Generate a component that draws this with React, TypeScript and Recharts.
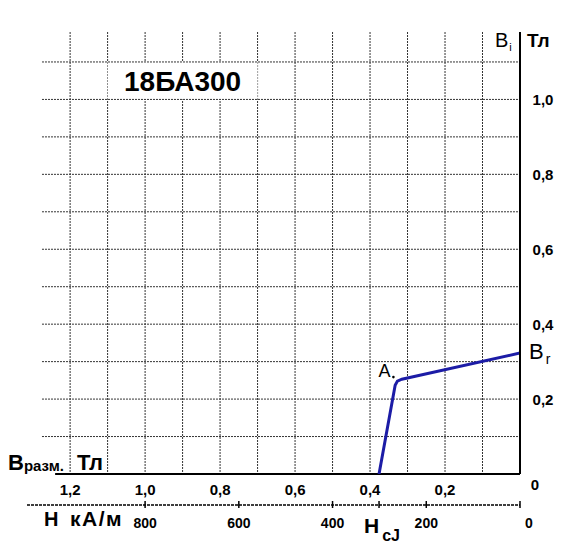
import {
  CartesianGrid,
  Label,
  Line,
  LineChart,
  ReferenceArea,
  ReferenceDot,
  ReferenceLine,
  XAxis,
  YAxis,
} from "recharts";

const FONT = '"Liberation Sans", Arial, sans-serif';

// demagnetization curve, mu0*H (Tл) against B (Tл)
const hTesla = [0, 0.315, 0.327, 0.333, 0.376];
const bTesla = [0.323, 0.253, 0.248, 0.237, 0];

const xTicks = [0, 0.1, 0.2, 0.3, 0.4, 0.5, 0.6, 0.7, 0.8, 0.9, 1.0, 1.1, 1.2];
const gridRows = [0.1, 0.2, 0.3, 0.4, 0.5, 0.6, 0.7, 0.8, 0.9, 1.0, 1.1];
const yTicks = [0.2, 0.4, 0.6, 0.8, 1.0];
const hTicks = [0, 200, 400, 600, 800];

const kAmPerTesla = 800;
const xMax = 1.315;
const yMax = 1.18;
const gridLeft = 1.275;
const axisLeft = 1.24;

const hcj = hTesla[hTesla.length - 1] * kAmPerTesla;
const data = hTesla.map((h, i) => ({ h, hk: h * kAmPerTesla, b: bTesla[i] }));

const fmt = (v: number) => (v === 0 ? "0" : v.toFixed(1).replace(".", ","));

function TeslaTick({ x, y, payload }: any) {
  const v = payload.value;
  if (v === 0) {
    return (
      <text x={x + 15} y={y + 16} textAnchor="middle" fontSize={15} fontWeight="bold" fontFamily={FONT} fill="#000">
        0
      </text>
    );
  }
  if (Math.round(v * 10) % 2 !== 0) return <g />;
  return (
    <text x={x} y={y + 21} textAnchor="middle" fontSize={15} fontWeight="bold" fontFamily={FONT} fill="#000">
      {fmt(v)}
    </text>
  );
}

function HTick({ x, y, payload }: any) {
  const v = payload.value;
  const isHcj = Math.abs(v - hcj) < 1e-6;
  return (
    <g fontFamily={FONT} fill="#000">
      <line x1={x} x2={x} y1={y - 4} y2={y + 3} stroke="#000" strokeWidth={1.5} />
      {isHcj ? (
        <text x={x - 15} y={y + 28} fontSize={21} fontWeight="bold">
          H
          <tspan fontSize={16} dx={3} dy={8}>
            cJ
          </tspan>
        </text>
      ) : (
        <text x={v === 0 ? x + 9 : x} y={y + 23} textAnchor="middle" fontSize={14} fontWeight="bold">
          {v}
        </text>
      )}
    </g>
  );
}

function BTick({ x, y, payload }: any) {
  return (
    <text x={x + 23} y={y + 6} textAnchor="middle" fontSize={15} fontWeight="bold" fontFamily={FONT} fill="#000">
      {fmt(payload.value)}
    </text>
  );
}

function BiLabel({ viewBox }: any) {
  const { x, y } = viewBox;
  return (
    <g fontFamily={FONT} fill="#000">
      <text x={x - 25} y={y + 15} fontSize={20}>
        B
        <tspan fontSize={11} dx={1} dy={4}>
          i
        </tspan>
      </text>
      <text x={x + 7} y={y + 15} fontSize={19} fontWeight="bold">
        Тл
      </text>
    </g>
  );
}

function BrazmLabel({ viewBox }: any) {
  const { x, y } = viewBox;
  return (
    <g fontFamily={FONT} fill="#000" fontWeight="bold">
      <text x={x - 19} y={y - 4} fontSize={22}>
        B
        <tspan fontSize={15} dy={1}>
          разм.
        </tspan>
      </text>
      <text x={x + 50} y={y - 4} fontSize={22}>
        Тл
      </text>
    </g>
  );
}

function HLabel({ viewBox }: any) {
  const { x, y } = viewBox;
  return (
    <g fontFamily={FONT} fill="#000" fontWeight="bold">
      <text x={x + 17} y={y + 21} fontSize={20}>
        H
      </text>
      <text x={x + 43} y={y + 21} fontSize={21} letterSpacing={1.5}>
        кА/м
      </text>
    </g>
  );
}

function BrLabel({ viewBox }: any) {
  const cx = viewBox.x + viewBox.width / 2;
  const cy = viewBox.y + viewBox.height / 2;
  return (
    <text x={cx + 9} y={cy + 6} fontSize={22} fontFamily={FONT} fill="#000">
      B
      <tspan fontSize={14} dx={2} dy={5}>
        r
      </tspan>
    </text>
  );
}

function ALabel({ viewBox }: any) {
  const cx = viewBox.x + viewBox.width / 2;
  const cy = viewBox.y + viewBox.height / 2;
  return (
    <g>
      <text x={cx - 19} y={cy - 4} fontSize={18} fontFamily={FONT} fill="#000">
        A
      </text>
      <circle cx={cx - 4} cy={cy - 4} r={1.3} fill="#000" />
    </g>
  );
}

export default function App() {
  return (
    <div style={{ width: 556, height: 544 }}>
      <LineChart width={556} height={544} data={data} margin={{ top: 24, right: 0, bottom: 0, left: 19 }}>
        <CartesianGrid xAxisId="a" horizontal={false} syncWithTicks stroke="#333" strokeDasharray="2 1" />
        <XAxis
          xAxisId="b"
          type="number"
          dataKey="hk"
          domain={[0, xMax * kAmPerTesla]}
          reversed
          allowDataOverflow
          ticks={[...hTicks, hcj]}
          interval={0}
          height={47}
          axisLine={{ stroke: "#000", strokeDasharray: "3 1", strokeWidth: 1.5 }}
          tickLine={false}
          tickSize={0}
          tickMargin={0}
          tick={<HTick />}
        >
          <Label content={<HLabel />} />
        </XAxis>
        <XAxis
          xAxisId="a"
          type="number"
          dataKey="h"
          domain={[0, xMax]}
          reversed
          allowDataOverflow
          ticks={xTicks}
          interval={0}
          height={31}
          axisLine={false}
          tickLine={false}
          tickSize={0}
          tickMargin={0}
          tick={<TeslaTick />}
        >
          <Label content={<BrazmLabel />} />
        </XAxis>
        <YAxis
          type="number"
          orientation="right"
          domain={[0, yMax]}
          allowDataOverflow
          ticks={yTicks}
          interval={0}
          width={44}
          axisLine={{ stroke: "#000", strokeWidth: 2 }}
          tickLine={false}
          tickSize={0}
          tickMargin={0}
          tick={<BTick />}
        >
          <Label content={<BiLabel />} />
        </YAxis>
        <ReferenceArea
          xAxisId="a"
          x1={1.1}
          x2={0.7}
          y1={1.0}
          y2={1.1}
          fill="#fff"
          fillOpacity={1}
          stroke="none"
          label={{ value: "18БА300", position: "center", fontSize: 28, fontWeight: "bold", fill: "#000", fontFamily: FONT }}
        />
        {gridRows.map((v) => (
          <ReferenceLine
            key={v}
            xAxisId="a"
            segment={[
              { x: gridLeft, y: v },
              { x: 0, y: v },
            ]}
            stroke="#333"
            strokeDasharray="2 1"
          />
        ))}
        <ReferenceLine
          xAxisId="a"
          segment={[
            { x: axisLeft, y: 0 },
            { x: 0, y: 0 },
          ]}
          stroke="#000"
          strokeWidth={2}
        />
        <Line
          xAxisId="a"
          type="linear"
          dataKey="b"
          stroke="#1c1ca6"
          strokeWidth={3}
          dot={false}
          isAnimationActive={false}
        />
        <ReferenceDot xAxisId="a" x={hTesla[0]} y={bTesla[0]} r={1} fill="none" stroke="none" label={<BrLabel />} />
        <ReferenceDot xAxisId="a" x={hTesla[2]} y={bTesla[2]} r={1} fill="none" stroke="none" label={<ALabel />} />
      </LineChart>
    </div>
  );
}
